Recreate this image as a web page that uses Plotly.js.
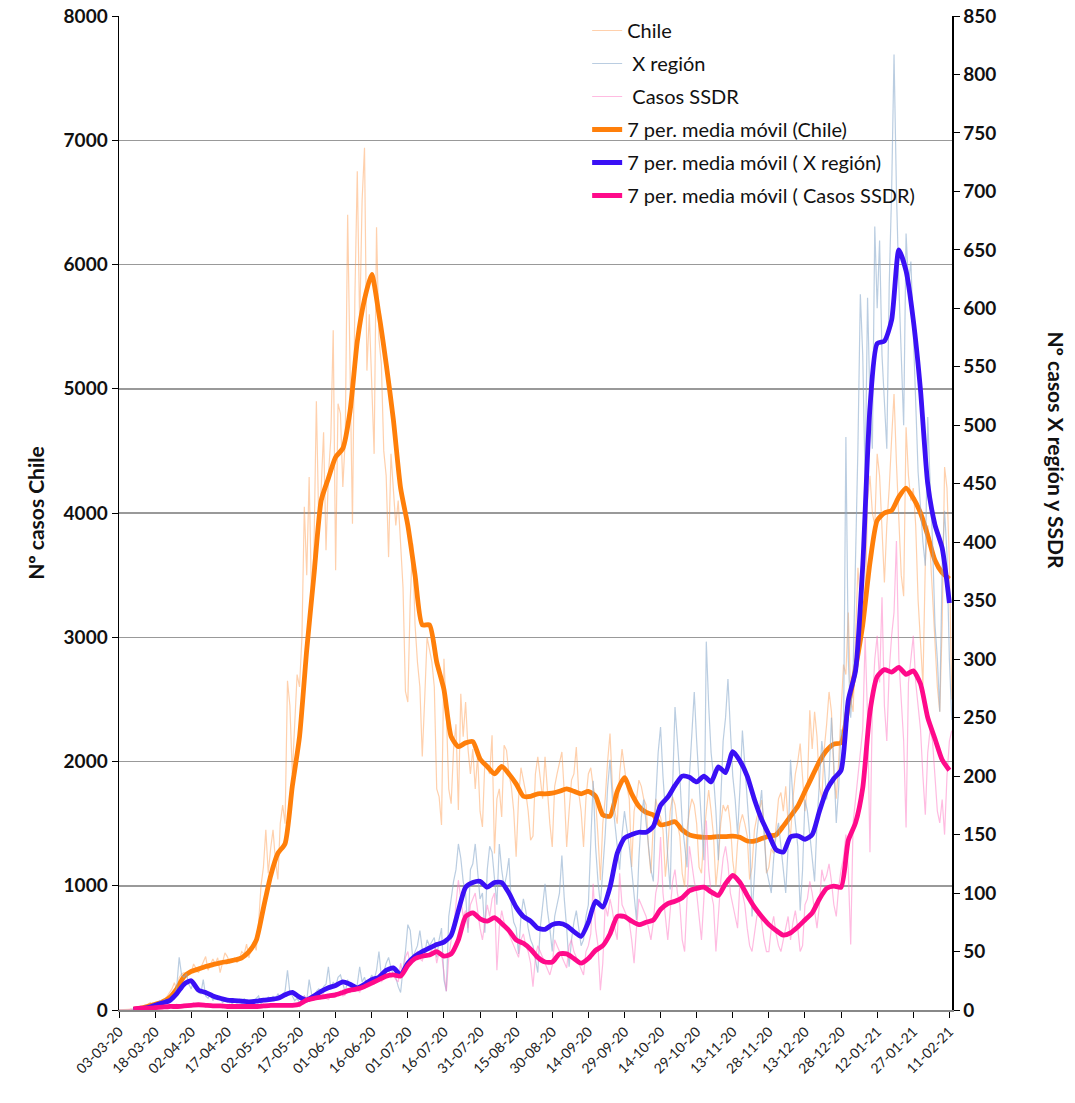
<!DOCTYPE html>
<html>
<head>
<meta charset="utf-8">
<script src="https://cdn.plot.ly/plotly-3.0.1.min.js"></script>
<style>
  html, body { margin: 0; padding: 0; background: #fff; }
  #chart { width: 1075px; height: 1103px; }
</style>
</head>
<body>
<div id="chart"></div>
<script>
// ---------------- DATA ----------------
const startDate = '2020-03-03';

// Daily raw cases, Chile (left axis), one value per day from 03-03-20
const chileDaily = [
  1, 1, 2, 2, 4, 5, 7,
  11, 15, 23, 17, 33, 50, 60,
  30, 45, 60, 55, 80, 90, 110,
  140, 170, 220, 160, 260, 290, 300,
  290, 310, 300, 370, 330, 300, 340,
  390, 430, 320, 360, 410, 370, 420,
  300, 390, 460, 430, 380, 400, 420,
  380, 410, 470, 450, 530, 420, 520,
  550, 480, 700, 1000, 1150, 1450, 1100,
  1300, 1450, 1200, 1050, 1500, 1650, 1500,
  2650, 2450, 1900, 2300, 2700, 2600, 3000,
  4050, 3500, 4290, 3300, 3700, 4900, 3900,
  4200, 4650, 3700, 4300, 4600, 5470, 3540,
  4880, 4800, 4210, 4600, 6400, 5000, 3913,
  5735, 6750, 5500, 6513, 6940, 5146, 5600,
  5000, 4476, 6300, 5400, 5200, 4500, 4300,
  3645, 4476, 4200, 3900, 4100, 3700, 3400,
  2565, 2478, 3300, 3754, 3100, 2800, 2600,
  2040, 2500, 3000, 2900, 2800, 2600, 1780,
  1715, 1490, 2826, 2400, 1780, 1661, 2100,
  2300, 1609, 2546, 2200, 2478, 2100, 1900,
  2100, 1780, 2050, 1600, 1474, 2000, 1950,
  1900, 2211, 1260, 1700, 1780, 1554, 2130,
  2090, 1900, 1800, 1600, 1233, 1700, 1950,
  1850, 1750, 1600, 1367, 1400, 1900, 2037,
  1850, 1700, 2037, 1750, 1500, 1313, 1800,
  1900, 2000, 2077, 1750, 1313, 1600, 1850,
  1900, 2117, 1750, 1600, 1313, 1700, 1900,
  1950, 1800, 1700, 1400, 1045, 1500, 1700,
  2000, 2225, 1800, 1600, 1500, 1900, 2100,
  1950, 1800, 1700, 1152, 1600, 1700, 1850,
  1800, 1700, 1650, 1300, 1100, 1500, 1700,
  1600, 1550, 1450, 1072, 1300, 1600, 1715,
  1650, 1500, 1400, 1100, 991, 1450, 1600,
  1700, 1650, 1500, 1150, 1100, 1400, 1600,
  1770, 1600, 1400, 1000, 1200, 1500, 1650,
  1600, 1650, 1500, 1200, 1050, 1350, 1500,
  1575, 1500, 1400, 1050, 1150, 1450, 1550,
  1600, 1690, 1500, 1100, 1150, 1300, 1260,
  1500, 1700, 1750, 1600, 1800, 1500, 1400,
  1700, 1900, 2000, 2144, 1900, 1600, 1800,
  2412, 2100, 2400, 2200, 1800, 1700, 2100,
  2300, 2560, 2400, 1900, 1700, 2000, 2400,
  2780, 2700, 3200, 2500, 2400, 3000, 3560,
  3300, 3600, 3200, 4100, 4300, 4000, 3900,
  4476, 4300, 3800, 3440, 3900, 4200, 4600,
  4958, 4400, 4000, 3500, 3330, 4690, 4300,
  4100, 4200, 3900, 3300, 3000, 2618, 3600,
  3900, 3700, 3300, 2900, 2600, 2400, 3100,
  4370, 4200, 3600, 2500
];

// Daily raw cases, X región (right axis)
const regionDaily = [
  0, 0, 0, 0, 0, 0, 1,
  0, 1, 2, 1, 3, 2, 4,
  3, 5, 4, 8, 6, 9, 7,
  10, 12, 9, 20, 45, 30, 28,
  31, 22, 18, 25, 20, 15, 14,
  26, 12, 10, 14, 8, 11, 9,
  12, 6, 9, 7, 10, 5, 8,
  6, 9, 5, 10, 7, 4, 8,
  6, 10, 12, 5, 9, 8, 11,
  7, 12, 9, 14, 10, 13, 16,
  34, 15, 12, 8, 10, 6, 9,
  12, 8, 26, 14, 10, 16, 18,
  15, 20, 22, 37, 18, 24, 20,
  28, 30, 22, 15, 26, 20, 17,
  16, 22, 37, 24, 28, 20, 25,
  30, 26, 34, 50, 28, 32, 40,
  45, 36, 30, 28, 20, 15, 35,
  50, 73, 68, 45, 50, 55, 68,
  52, 48, 60, 55, 58, 62, 45,
  60, 70, 26, 16, 80, 95, 110,
  120, 142, 130, 110, 100, 66, 120,
  125, 142, 115, 95, 100, 66, 120,
  140, 135, 110, 90, 142, 120, 105,
  115, 130, 90, 75, 70, 48, 80,
  95, 85, 70, 60, 55, 45, 32,
  70, 90, 108, 85, 70, 50, 80,
  90, 100, 132, 95, 70, 37, 60,
  75, 85, 70, 55, 60, 80, 90,
  150, 196, 140, 110, 90, 120, 150,
  190, 214, 180, 160, 140, 120, 150,
  170, 155, 140, 120, 100, 77, 130,
  165, 180, 160, 140, 120, 110, 180,
  220, 242, 200, 170, 130, 103, 190,
  259, 230, 200, 160, 140, 122, 200,
  240, 272, 230, 190, 160, 128, 315,
  260, 220, 200, 170, 128, 180, 230,
  250, 283, 240, 200, 180, 150, 190,
  239, 210, 180, 150, 80, 120, 150,
  170, 188, 150, 120, 110, 100, 130,
  150, 160, 140, 120, 100, 140, 214,
  180, 160, 140, 85, 120, 180, 170,
  150, 130, 110, 160, 200, 230, 210,
  180, 200, 250, 210, 160, 190, 240,
  230, 490, 300, 250, 290, 380, 481,
  612, 560, 450, 609, 520, 480, 670,
  600, 658, 560, 520, 480, 620, 700,
  817, 700, 620, 560, 500, 664, 620,
  640, 580, 520, 460, 430, 400, 380,
  507, 450, 400, 330, 300, 255, 380,
  427, 390, 300, 248
];

// Daily raw cases, Casos SSDR (right axis)
const ssdrDaily = [
  0, 0, 0, 0, 0, 1, 0,
  1, 2, 1, 2, 1, 3, 2,
  2, 3, 1, 4, 2, 3, 2,
  3, 4, 2, 5, 3, 4, 3,
  4, 5, 3, 6, 4, 5, 4,
  3, 4, 5, 3, 4, 3, 4,
  3, 2, 4, 3, 5, 2, 3,
  3, 4, 2, 3, 4, 2, 3,
  4, 3, 2, 3, 5, 4, 3,
  4, 5, 3, 4, 5, 4, 3,
  5, 4, 3, 4, 5, 3, 6,
  12, 10, 8, 9, 11, 10, 13,
  12, 14, 10, 9, 13, 12, 15,
  14, 16, 12, 13, 18, 15, 17,
  20, 18, 15, 22, 19, 20, 24,
  25, 22, 28, 30, 24, 27, 32,
  35, 28, 30, 26, 24, 40, 30,
  45, 50, 38, 42, 48, 50, 44,
  42, 50, 48, 46, 52, 55, 40,
  50, 48, 30, 16, 45, 60, 70,
  90, 111, 95, 80, 85, 70, 90,
  95, 100, 85, 70, 60, 75, 90,
  80, 95, 100, 34, 70, 85, 75,
  70, 65, 60, 55, 50, 45, 60,
  65, 55, 50, 40, 20, 45, 55,
  50, 45, 40, 35, 30, 38, 60,
  55, 50, 45, 40, 36, 55, 60,
  50, 45, 40, 35, 30, 50, 55,
  65, 108, 70, 55, 17, 40, 90,
  80, 95, 85, 70, 60, 117, 90,
  85, 80, 75, 60, 40, 70, 95,
  90, 85, 80, 70, 60, 75, 100,
  110, 148, 100, 80, 60, 85, 110,
  120, 100, 90, 60, 50, 90, 140,
  125, 110, 100, 80, 60, 95, 162,
  120, 100, 90, 50, 80, 110, 130,
  140, 125, 100, 90, 80, 70, 110,
  100, 90, 70, 55, 50, 65, 80,
  85, 75, 60, 50, 50, 70, 80,
  65, 55, 50, 60, 70, 80, 60,
  75, 85, 70, 50, 55, 90, 95,
  110, 100, 85, 70, 90, 120, 110,
  115, 125, 110, 90, 80, 105, 120,
  130, 150, 120, 56, 160, 180, 200,
  220, 240, 319, 250, 135, 260, 300,
  320, 280, 353, 260, 230, 290, 320,
  340, 401, 300, 260, 230, 156, 280,
  300, 320, 280, 260, 240, 200, 167,
  220, 240, 230, 200, 170, 160, 180,
  150, 200, 230, 239
];

// 7-period moving averages, read every 3 days from 03-03-20
const maStepDays = 3;
const chileMA = [
  null, null, 5, 15, 30, 45, 65, 100, 170, 268,
  310, 330, 350, 365, 380, 390, 402, 420, 470, 560,
  820, 1080, 1260, 1340, 1800, 2200, 2900, 3500, 4100, 4280,
  4450, 4520, 4820, 5380, 5720, 5920, 5600, 5200, 4750, 4200,
  3900, 3500, 3100, 3100, 2800, 2580, 2200, 2120, 2150, 2160,
  2020, 1960, 1900, 1960, 1900, 1820, 1720, 1720, 1740, 1740,
  1745, 1760, 1780, 1760, 1740, 1760, 1720, 1570, 1560, 1760,
  1870, 1740, 1640, 1590, 1570, 1490, 1500, 1515, 1450, 1410,
  1395, 1390, 1390, 1395, 1395, 1400, 1390, 1360, 1360, 1380,
  1400, 1410, 1480, 1560, 1640, 1760, 1880, 2000, 2090, 2140,
  2150, 2450, 2750, 3100, 3600, 3940, 4000, 4020, 4130, 4200,
  4120, 4000, 3820, 3620, 3520, 3470
];
const regionMA = [
  null, null, 0.5, 1, 2, 4, 6, 8, 14, 22,
  25, 17, 15, 12, 10, 8.5, 8, 7.5, 7, 7.5,
  8.5, 9, 10, 13, 15, 11, 8.5, 12, 16, 19,
  21, 24, 22, 19, 22, 26, 28, 34, 36, 30,
  40, 46, 50, 53, 56, 58, 64, 85, 105, 109,
  110, 105, 109, 109, 100, 88, 80, 76, 70, 69,
  73, 74, 72, 67, 63, 75, 93, 88, 105, 134,
  147, 150, 152, 152, 157, 175, 182, 192, 200, 199,
  195, 200, 195, 208, 203, 221, 213, 200, 180, 163,
  150, 137, 135, 148, 149, 146, 150, 170, 188, 198,
  205, 265, 290, 380, 515, 570, 572, 590, 650, 632,
  590, 530, 450, 415, 395, 348
];
const ssdrMA = [
  null, null, 1, 1.5, 1.5, 2, 2.5, 3, 3, 3.5,
  4, 4.5, 4, 3.5, 3.5, 3, 3, 3, 3, 3,
  3.5, 4, 4, 4, 4, 5, 8.5, 10, 11, 12,
  13, 15, 17, 18, 20, 23, 26, 29, 30, 29,
  38, 44, 46, 47, 50, 46, 48, 60, 80, 83,
  78, 76, 79, 74, 68, 60, 57, 52, 45, 41,
  41, 48, 48, 44, 40, 44, 51, 55, 65, 80,
  80, 76, 73, 75, 77, 86, 91, 93, 96, 102,
  104, 105, 101, 98, 108, 115, 109, 98, 88, 80,
  73, 68, 64, 66, 71, 77, 83, 95, 104, 106,
  105, 145, 160, 190, 255, 285, 291, 289, 293, 287,
  290, 279, 250, 232, 214, 205
];

const legendNames = [
  'Chile', ' X región', ' Casos SSDR',
  '7 per. media móvil (Chile)', '7 per. media móvil ( X región)', '7 per. media móvil ( Casos SSDR)'
];

// ---------------- HELPERS ----------------
const DAY = 86400000;
const t0 = Date.UTC(2020, 2, 3);
function dateAt(d) { return new Date(t0 + d * DAY).toISOString().slice(0, 10); }
const dailyDates = chileDaily.map((_, i) => dateAt(i));
const regionDates = regionDaily.map((_, i) => dateAt(i));
const ssdrDates = ssdrDaily.map((_, i) => dateAt(i));
const maDates = chileMA.map((_, i) => dateAt(i * maStepDays));

const FONT = 'Lato, "Open Sans", "DejaVu Sans", sans-serif';

const traces = [
  { x: dailyDates, y: chileDaily, name: legendNames[0], type: 'scatter', mode: 'lines',
    line: { color: 'rgba(255,150,70,0.45)', width: 1.2 }, yaxis: 'y', legendgroup: 'a' },
  { x: regionDates, y: regionDaily, name: legendNames[1], type: 'scatter', mode: 'lines',
    line: { color: 'rgba(140,172,205,0.6)', width: 1.2 }, yaxis: 'y2', legendgroup: 'b' },
  { x: ssdrDates, y: ssdrDaily, name: legendNames[2], type: 'scatter', mode: 'lines',
    line: { color: 'rgba(255,120,195,0.5)', width: 1.2 }, yaxis: 'y2', legendgroup: 'c' },
  { x: maDates, y: chileMA, name: legendNames[3], type: 'scatter', mode: 'lines',
    line: { color: '#FF7F0A', width: 4.8, shape: 'spline', smoothing: 0.6 }, yaxis: 'y', legendgroup: 'd' },
  { x: maDates, y: regionMA, name: legendNames[4], type: 'scatter', mode: 'lines',
    line: { color: '#3A10F5', width: 4.8, shape: 'spline', smoothing: 0.6 }, yaxis: 'y2', legendgroup: 'e' },
  { x: maDates, y: ssdrMA, name: legendNames[5], type: 'scatter', mode: 'lines',
    line: { color: '#FF0A8A', width: 4.8, shape: 'spline', smoothing: 0.6 }, yaxis: 'y2', legendgroup: 'f' }
];

const layout = {
  width: 1075, height: 1103,
  margin: { l: 119, r: 123, t: 15, b: 93, pad: 0 },
  paper_bgcolor: '#fff', plot_bgcolor: '#fff',
  font: { family: FONT, color: '#111' },
  showlegend: true,
  legend: {
    x: 0.562, y: 1.004, xanchor: 'left', yanchor: 'top',
    bgcolor: 'rgba(0,0,0,0)', borderwidth: 0,
    font: { family: FONT, size: 20, color: '#111' },
    traceorder: 'grouped', tracegroupgap: 4
  },
  xaxis: {
    type: 'date',
    range: ['2020-03-03', '2021-02-12 02:00'],
    tick0: '2020-03-03', dtick: 15 * DAY,
    tickformat: '%d-%m-%y', tickangle: -45,
    ticks: 'outside', ticklen: 6, tickcolor: '#000', tickwidth: 1,
    tickfont: { family: FONT, size: 14, color: '#222' },
    showgrid: false, zeroline: false,
    showline: true, linecolor: '#888', linewidth: 2
  },
  yaxis: {
    range: [0, 8000], dtick: 1000, tick0: 0,
    ticks: 'outside', ticklen: 6, tickcolor: '#000',
    tickfont: { family: FONT, size: 19, color: '#111', weight: 'bold' },
    showgrid: true, gridcolor: '#999', gridwidth: 1.5,
    zeroline: false, showline: true, linecolor: '#000', linewidth: 1.5
  },
  yaxis2: {
    overlaying: 'y', side: 'right',
    range: [0, 850], dtick: 50, tick0: 0,
    ticks: 'outside', ticklen: 6, tickcolor: '#000',
    tickfont: { family: FONT, size: 19, color: '#111', weight: 'bold' },
    showgrid: false, zeroline: false, showline: true, linecolor: '#000', linewidth: 1.5
  },
  annotations: [
    { text: 'Nº casos Chile', xref: 'paper', yref: 'paper', x: -0.101, y: 0.5,
      textangle: -90, showarrow: false, xanchor: 'center', yanchor: 'middle',
      font: { family: FONT, size: 21, color: '#111', weight: 'bold' } },
    { text: 'Nº casos X región y SSDR', xref: 'paper', yref: 'paper', x: 1.126, y: 0.563,
      textangle: 90, showarrow: false, xanchor: 'center', yanchor: 'middle',
      font: { family: FONT, size: 21, color: '#111', weight: 'bold' } }
  ]
};

Plotly.newPlot('chart', traces, layout, { displayModeBar: false, staticPlot: true });
</script>
</body>
</html>
